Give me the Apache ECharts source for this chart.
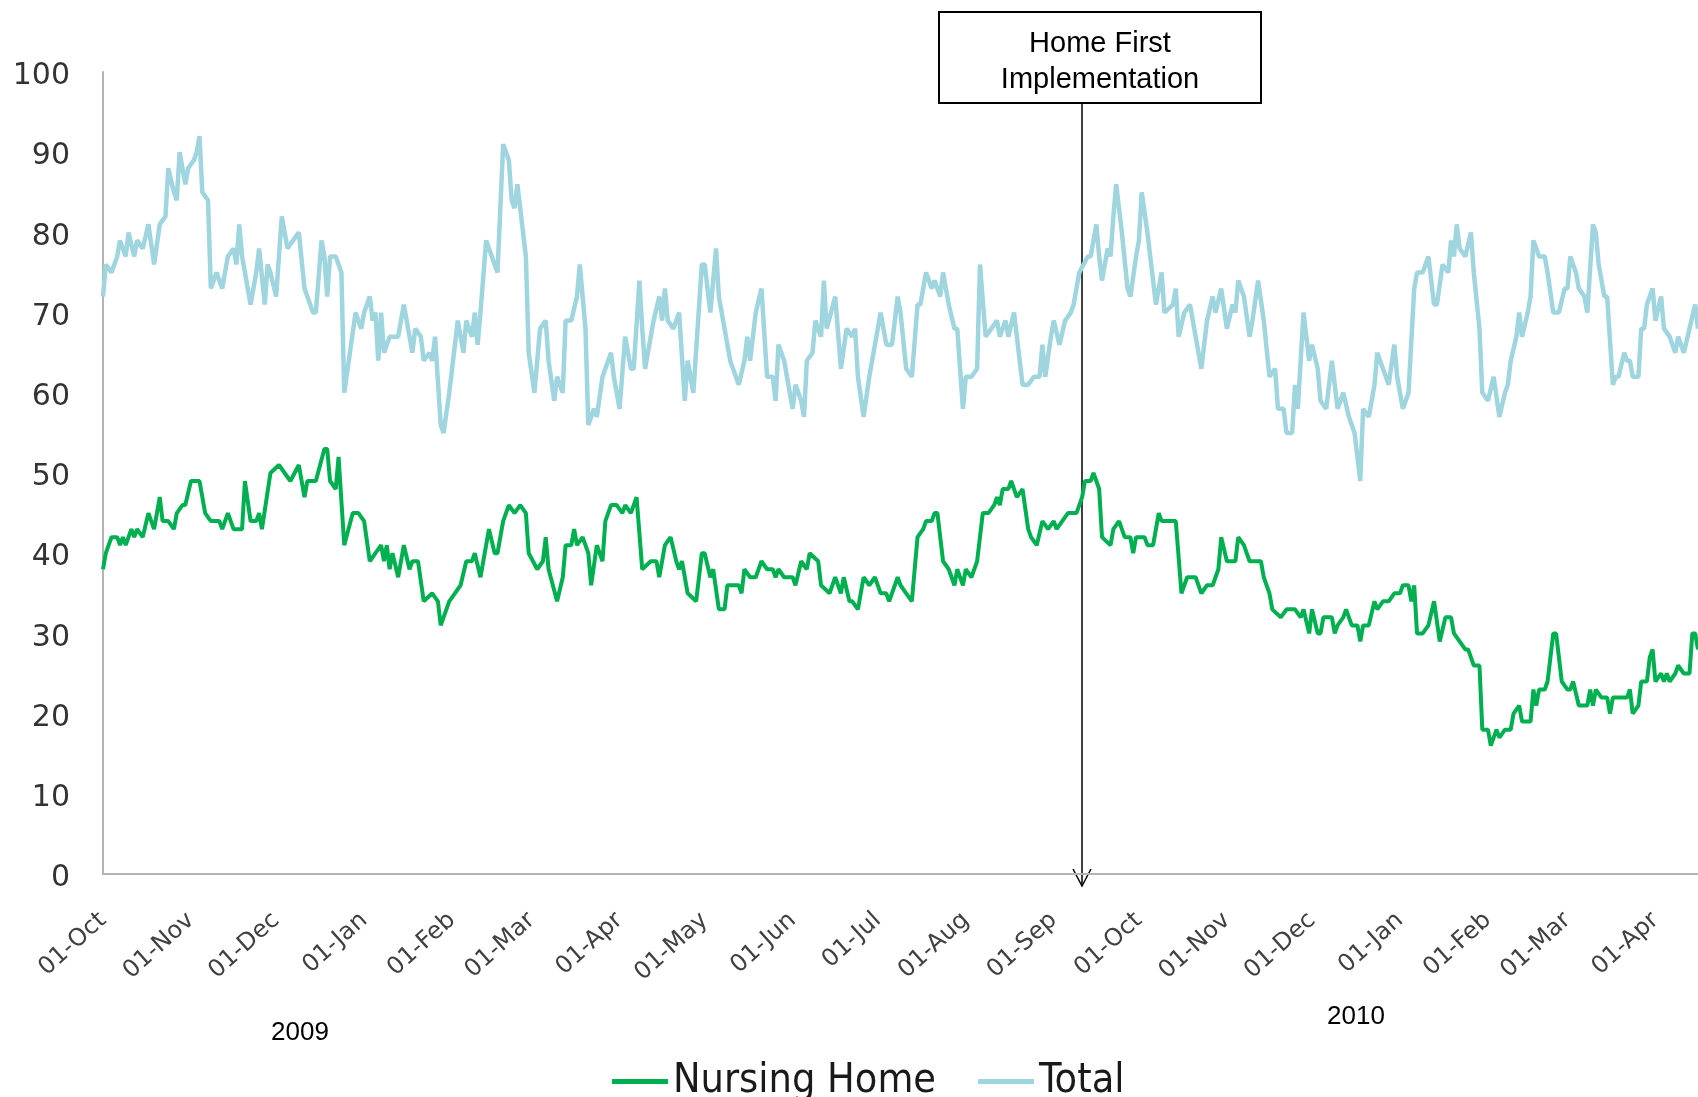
<!DOCTYPE html>
<html>
<head>
<meta charset="utf-8">
<title>Home First Implementation</title>
<script src="https://cdn.jsdelivr.net/npm/echarts@6/dist/echarts.min.js"></script>
<style>
  html, body { margin: 0; padding: 0; background: #fff; }
  #chart { width: 1698px; height: 1097px; }
</style>
</head>
<body>
<div id="chart"></div>
<script>
// day offsets are counted from 01-Oct-2008
const monthNames = ['Jan', 'Feb', 'Mar', 'Apr', 'May', 'Jun', 'Jul', 'Aug', 'Sep', 'Oct', 'Nov', 'Dec']
const lastDay = 562
const arrowDay = 345
const seriesNames = ['Nursing Home', 'Total']
const yearLabels = ['2009', '2010']

const totalDays = [
  0, 1, 3, 5, 6, 8, 9, 11, 12, 14, 16, 18, 20, 22, 23, 25, 26, 27, 29, 30,
  32, 33, 34, 35, 37, 38, 40, 42, 44, 46, 47, 48, 49, 52, 54, 55, 57, 58, 59, 61,
  63, 65, 67, 69, 71, 72, 74, 75, 77, 78, 79, 80, 82, 84, 85, 87, 89, 91, 92, 94,
  95, 96, 97, 98, 99, 101, 104, 106, 109, 110, 112, 113, 115, 116, 117, 119, 120, 122, 123, 125,
  127, 128, 130, 131, 132, 133, 135, 137, 139, 141, 143, 144, 145, 146, 147, 149, 150, 152, 154, 156,
  157, 159, 160, 162, 163, 165, 167, 168, 170, 171, 173, 174, 176, 179, 180, 182, 184, 186, 187, 189,
  190, 191, 193, 194, 196, 197, 198, 199, 201, 203, 205, 206, 208, 211, 212, 214, 216, 217, 219, 221,
  224, 226, 227, 228, 230, 232, 234, 236, 237, 238, 240, 241, 243, 244, 246, 247, 248, 250, 251, 253,
  254, 255, 258, 260, 262, 264, 265, 266, 268, 270, 271, 273, 274, 276, 278, 280, 281, 283, 285, 287,
  288, 290, 292, 293, 295, 296, 298, 300, 301, 303, 304, 306, 308, 309, 311, 313, 315, 316, 318, 319,
  321, 323, 324, 326, 328, 330, 331, 332, 334, 335, 337, 339, 341, 342, 344, 347, 348, 350, 351, 352,
  354, 355, 356, 357, 359, 361, 362, 364, 365, 366, 368, 369, 371, 373, 374, 377, 378, 379, 381, 383,
  384, 387, 389, 391, 392, 394, 396, 398, 399, 400, 402, 404, 405, 407, 409, 411, 413, 414, 416, 417,
  419, 420, 421, 423, 425, 426, 428, 429, 431, 433, 435, 437, 439, 441, 442, 443, 444, 446, 448, 449,
  451, 453, 455, 456, 458, 459, 460, 462, 463, 465, 467, 469, 470, 472, 474, 475, 476, 477, 478, 480,
  482, 483, 485, 486, 488, 490, 492, 494, 495, 496, 498, 499, 500, 502, 503, 504, 506, 508, 509, 511,
  513, 515, 516, 517, 519, 520, 522, 523, 525, 526, 527, 529, 530, 532, 533, 534, 536, 537, 538, 539,
  541, 542, 543, 544, 546, 547, 549, 550, 552, 554, 555, 557, 559, 561, 562
]
const totalValues = [
  72, 76, 75, 77, 79, 77, 80, 77, 79, 78, 81, 76, 81, 82, 88, 85, 84, 90, 86, 88,
  89, 90, 92, 85, 84, 73, 75, 73, 77, 78, 76, 81, 77, 71, 75, 78, 71, 76, 75, 72,
  82, 78, 79, 80, 73, 72, 70, 70, 79, 77, 72, 77, 77, 75, 60, 65, 70, 68, 70, 72,
  69, 70, 64, 70, 65, 67, 67, 71, 65, 68, 67, 64, 65, 64, 67, 56, 55, 60, 63, 69,
  65, 69, 67, 70, 66, 70, 79, 77, 75, 91, 89, 84, 83, 86, 83, 77, 65, 60, 68, 69,
  64, 59, 62, 60, 69, 69, 72, 76, 68, 56, 58, 57, 62, 65, 62, 58, 67, 63, 63, 74,
  68, 63, 67, 69, 72, 69, 73, 69, 68, 70, 59, 64, 60, 76, 76, 70, 78, 72, 68, 64,
  61, 64, 67, 64, 70, 73, 62, 62, 59, 66, 64, 62, 58, 61, 59, 57, 64, 65, 69, 67,
  74, 68, 72, 63, 68, 67, 68, 62, 57, 62, 64, 68, 70, 66, 66, 72, 70, 63, 62, 71,
  71, 75, 73, 74, 72, 75, 71, 68, 68, 58, 62, 62, 63, 76, 67, 68, 69, 67, 69, 67,
  70, 64, 61, 61, 62, 62, 66, 62, 67, 69, 66, 69, 70, 71, 75, 77, 77, 81, 77, 74,
  78, 77, 82, 86, 80, 73, 72, 77, 79, 85, 80, 77, 71, 75, 70, 71, 73, 67, 70, 71,
  69, 63, 69, 72, 70, 73, 68, 71, 70, 74, 72, 67, 69, 74, 69, 62, 63, 58, 58, 55,
  55, 61, 58, 70, 64, 66, 63, 59, 58, 64, 58, 60, 57, 55, 52, 49, 58, 57, 61, 65,
  63, 61, 66, 62, 58, 59, 60, 73, 75, 75, 77, 71, 71, 76, 75, 79, 77, 81, 78, 77,
  80, 75, 68, 60, 59, 62, 57, 60, 61, 64, 67, 70, 67, 70, 72, 79, 77, 77, 75, 70,
  70, 73, 73, 77, 75, 73, 72, 70, 81, 80, 76, 72, 72, 61, 62, 62, 65, 64, 64, 62,
  62, 68, 68, 71, 73, 69, 72, 68, 67, 65, 67, 65, 68, 71, 68
]

const nursingDays = [
  0, 1, 3, 5, 6, 7, 8, 10, 11, 12, 14, 16, 18, 20, 21, 23, 25, 26, 28, 29,
  31, 34, 36, 38, 41, 42, 44, 46, 49, 50, 52, 54, 55, 56, 59, 62, 64, 66, 69, 71,
  72, 75, 78, 79, 80, 82, 83, 85, 88, 90, 92, 94, 96, 98, 99, 100, 101, 102, 104, 106,
  108, 109, 111, 113, 116, 118, 119, 120, 122, 124, 126, 128, 130, 131, 133, 134, 136, 138, 139, 141,
  143, 145, 147, 149, 150, 153, 155, 156, 157, 160, 162, 163, 165, 166, 167, 169, 171, 172, 174, 176,
  177, 179, 181, 183, 184, 186, 188, 190, 193, 195, 196, 198, 200, 202, 203, 204, 206, 209, 211, 212,
  214, 215, 217, 219, 220, 224, 225, 226, 228, 230, 232, 234, 236, 237, 238, 240, 243, 244, 246, 248,
  249, 252, 253, 256, 258, 260, 261, 263, 264, 266, 268, 270, 272, 274, 276, 277, 280, 281, 283, 285,
  287, 289, 290, 292, 293, 294, 296, 298, 300, 301, 303, 304, 306, 308, 310, 312, 314, 315, 316, 317,
  319, 320, 322, 324, 326, 327, 329, 331, 333, 335, 336, 338, 340, 343, 345, 346, 348, 349, 351, 352,
  355, 356, 358, 360, 362, 363, 364, 367, 368, 370, 372, 373, 378, 380, 382, 385, 387, 389, 391, 392,
  393, 394, 396, 399, 400, 402, 404, 406, 408, 409, 411, 412, 415, 417, 420, 422, 423, 425, 426, 428,
  429, 430, 433, 434, 435, 437, 438, 440, 442, 443, 444, 446, 448, 449, 451, 453, 455, 457, 458, 460,
  461, 462, 463, 465, 467, 469, 471, 473, 475, 476, 478, 480, 481, 483, 485, 486, 488, 489, 491, 492,
  494, 496, 497, 499, 500, 503, 504, 505, 506, 508, 509, 511, 512, 514, 516, 517, 518, 520, 523, 524,
  525, 526, 528, 530, 531, 532, 535, 537, 538, 539, 541, 542, 544, 545, 546, 547, 549, 550, 551, 552,
  554, 555, 557, 559, 560, 561, 562
]
const nursingValues = [
  38, 40, 42, 42, 41, 42, 41, 43, 42, 43, 42, 45, 43, 47, 44, 44, 43, 45, 46, 46,
  49, 49, 45, 44, 44, 43, 45, 43, 43, 49, 44, 44, 45, 43, 50, 51, 50, 49, 51, 47,
  49, 49, 53, 53, 49, 48, 52, 41, 45, 45, 44, 39, 40, 41, 39, 41, 38, 40, 37, 41,
  38, 39, 39, 34, 35, 34, 31, 32, 34, 35, 36, 39, 39, 40, 37, 39, 43, 40, 40, 44,
  46, 45, 46, 45, 40, 38, 39, 42, 38, 34, 37, 41, 41, 43, 41, 42, 40, 36, 41, 39,
  44, 46, 46, 45, 46, 45, 47, 38, 39, 39, 37, 41, 42, 39, 38, 39, 35, 34, 40, 40,
  37, 38, 33, 33, 36, 36, 35, 38, 37, 37, 39, 38, 38, 37, 38, 37, 37, 36, 39, 38,
  40, 39, 36, 35, 37, 35, 37, 34, 34, 33, 37, 36, 37, 35, 35, 34, 37, 36, 35, 34,
  42, 43, 44, 44, 45, 45, 39, 38, 36, 38, 36, 38, 37, 39, 45, 45, 46, 47, 46, 48,
  48, 49, 47, 48, 43, 42, 41, 44, 43, 44, 43, 44, 45, 45, 47, 49, 49, 50, 48, 42,
  41, 43, 44, 42, 42, 40, 42, 42, 41, 41, 45, 44, 44, 35, 37, 37, 35, 36, 36, 37,
  38, 42, 39, 39, 42, 41, 39, 39, 39, 37, 35, 33, 32, 33, 33, 32, 33, 30, 33, 30,
  30, 32, 32, 30, 31, 32, 33, 31, 31, 29, 31, 31, 34, 33, 34, 34, 35, 35, 36, 36,
  34, 36, 30, 30, 31, 34, 29, 32, 32, 30, 29, 28, 28, 26, 26, 18, 18, 16, 18, 17,
  18, 18, 20, 21, 19, 19, 23, 21, 23, 23, 24, 30, 30, 24, 23, 23, 24, 21, 21, 23,
  21, 23, 22, 22, 20, 22, 22, 22, 23, 20, 21, 24, 24, 27, 28, 24, 25, 24, 25, 24,
  25, 26, 25, 25, 30, 30, 28
]

const startTime = new Date(2008, 9, 1).getTime()

function pairs(days, values) {
  return days.map((d, i) => [d, values[i]])
}

// day offset of the first day of every month from Oct 2008 to Apr 2010
const monthTicks = []
for (let m = 0; m < 19; m++) {
  monthTicks.push(Math.round((new Date(2008, 9 + m, 1).getTime() - startTime) / 86400000))
}

function monthLabel(day) {
  const d = new Date(2008, 9, 1 + Math.round(day))
  return '01-' + monthNames[d.getMonth()]
}

const chartEl = document.getElementById('chart')
const myChart = echarts.init(chartEl)

const option = {
  animation: false,
  grid: { left: 103, right: 0, top: 72, bottom: 223 },
  legend: {
    data: seriesNames,
    left: 607,
    top: 1056,
    icon: 'rect',
    itemWidth: 56,
    itemHeight: 5,
    itemGap: 42,
    textStyle: {
      fontFamily: '"DejaVu Sans Condensed", "DejaVu Sans"',
      fontSize: 41,
      color: '#1a1a1a'
    }
  },
  xAxis: {
    type: 'value',
    min: 0,
    max: lastDay,
    axisLine: { lineStyle: { color: '#b4b4b4', width: 2 } },
    axisTick: { show: false },
    splitLine: { show: false },
    axisLabel: {
      customValues: monthTicks,
      rotate: 42,
      margin: 43,
      hideOverlap: false,
      fontFamily: 'DejaVu Sans',
      fontSize: 24,
      color: '#404040',
      formatter: (v) => monthLabel(v)
    }
  },
  yAxis: {
    type: 'value',
    min: 0,
    max: 100,
    interval: 10,
    axisLine: { show: true, lineStyle: { color: '#b4b4b4', width: 2 } },
    axisTick: { show: false },
    splitLine: { show: false },
    axisLabel: {
      margin: 33,
      formatter: (v) => '{n|' + v + '}',
      rich: {
        n: {
          padding: [9, 0, 0, 0],
          fontFamily: 'DejaVu Sans',
          fontSize: 30,
          color: '#333'
        }
      }
    }
  },
  series: [
    {
      name: 'Nursing Home',
      type: 'line',
      data: pairs(nursingDays, nursingValues),
      showSymbol: false,
      lineStyle: { color: '#00b050', width: 4 },
      itemStyle: { color: '#00b050' },
      z: 3
    },
    {
      name: 'Total',
      type: 'line',
      data: pairs(totalDays, totalValues),
      showSymbol: false,
      lineStyle: { color: '#9fd5df', width: 4.5 },
      itemStyle: { color: '#9fd5df' },
      z: 2
    }
  ]
}

myChart.setOption(option)

// annotation arrow sits on the implementation date
const arrowX = Math.round(myChart.convertToPixel({ xAxisIndex: 0 }, arrowDay))
const boxTop = 12
const boxBottom = 103
const arrowTip = 886

myChart.setOption({
  graphic: [
    {
      type: 'rect',
      shape: { x: arrowX - 143, y: boxTop, width: 322, height: boxBottom - boxTop },
      style: { fill: '#fff', stroke: '#000', lineWidth: 2 }
    },
    {
      type: 'text',
      x: arrowX + 18,
      y: 62,
      style: {
        text: 'Home First\nImplementation',
        fontFamily: '"Liberation Sans", Arial',
        fontSize: 29,
        lineHeight: 36,
        fill: '#000',
        align: 'center',
        verticalAlign: 'middle'
      }
    },
    {
      type: 'line',
      shape: { x1: arrowX, y1: boxBottom, x2: arrowX, y2: arrowTip },
      style: { stroke: '#000', lineWidth: 1.5 }
    },
    {
      type: 'polyline',
      shape: { points: [[arrowX - 9, arrowTip - 17], [arrowX, arrowTip], [arrowX + 9, arrowTip - 17]] },
      style: { stroke: '#000', lineWidth: 1.5, fill: null }
    },
    {
      type: 'text',
      x: 300,
      y: 1033,
      style: {
        text: yearLabels[0],
        fontFamily: '"Liberation Sans", Arial',
        fontSize: 26,
        fill: '#000',
        align: 'center',
        verticalAlign: 'middle'
      }
    },
    {
      type: 'text',
      x: 1356,
      y: 1017,
      style: {
        text: yearLabels[1],
        fontFamily: '"Liberation Sans", Arial',
        fontSize: 26,
        fill: '#000',
        align: 'center',
        verticalAlign: 'middle'
      }
    }
  ]
})
</script>
</body>
</html>
